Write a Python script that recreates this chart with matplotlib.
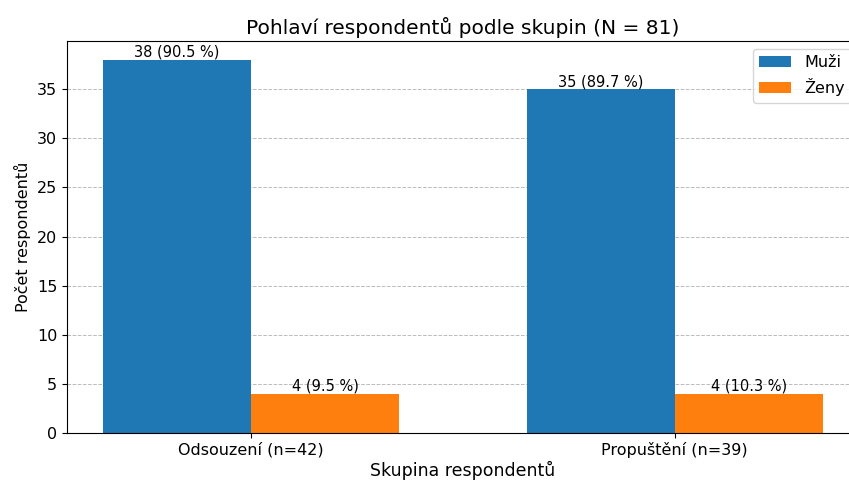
import numpy as np
import matplotlib.pyplot as plt

groups = ['Odsouzení (n=42)', 'Propuštění (n=39)']
muzi = [38, 35]
zeny = [4, 4]
muzi_pct = [90.5, 89.7]
zeny_pct = [9.5, 10.3]

fig = plt.figure(figsize=(8.49, 4.82), dpi=100)
ax = fig.add_axes([0.0789, 0.1017, 0.9329, 0.8132])

x = np.arange(len(groups))
w = 0.35
b1 = ax.bar(x - w/2, muzi, w, label='Muži', color='#1f77b4', zorder=2)
b2 = ax.bar(x + w/2, zeny, w, label='Ženy', color='#ff7f0e', zorder=2)

for bars, vals, pcts in [(b1, muzi, muzi_pct), (b2, zeny, zeny_pct)]:
    for b, v, p in zip(bars, vals, pcts):
        ax.text(b.get_x() + b.get_width()/2, v, f'{v} ({p} %)',
                ha='center', va='bottom', fontsize=10.5)

ax.set_xticks(x)
ax.set_xticklabels(groups, fontsize=11.5)
ax.tick_params(axis='y', labelsize=11.5)
ax.tick_params(axis='x', pad=3)
ax.set_xlabel('Skupina respondentů', fontsize=12.5, labelpad=2)
ax.set_ylabel('Počet respondentů', fontsize=11.5)
ax.set_title('Pohlaví respondentů podle skupin (N = 81)', fontsize=14.5, pad=5)
ax.yaxis.grid(True, linestyle='--', color='#bbbbbb', linewidth=0.7, zorder=0)
ax.set_axisbelow(True)
ax.legend(fontsize=11.5)

fig.savefig('out.png', dpi=100)
